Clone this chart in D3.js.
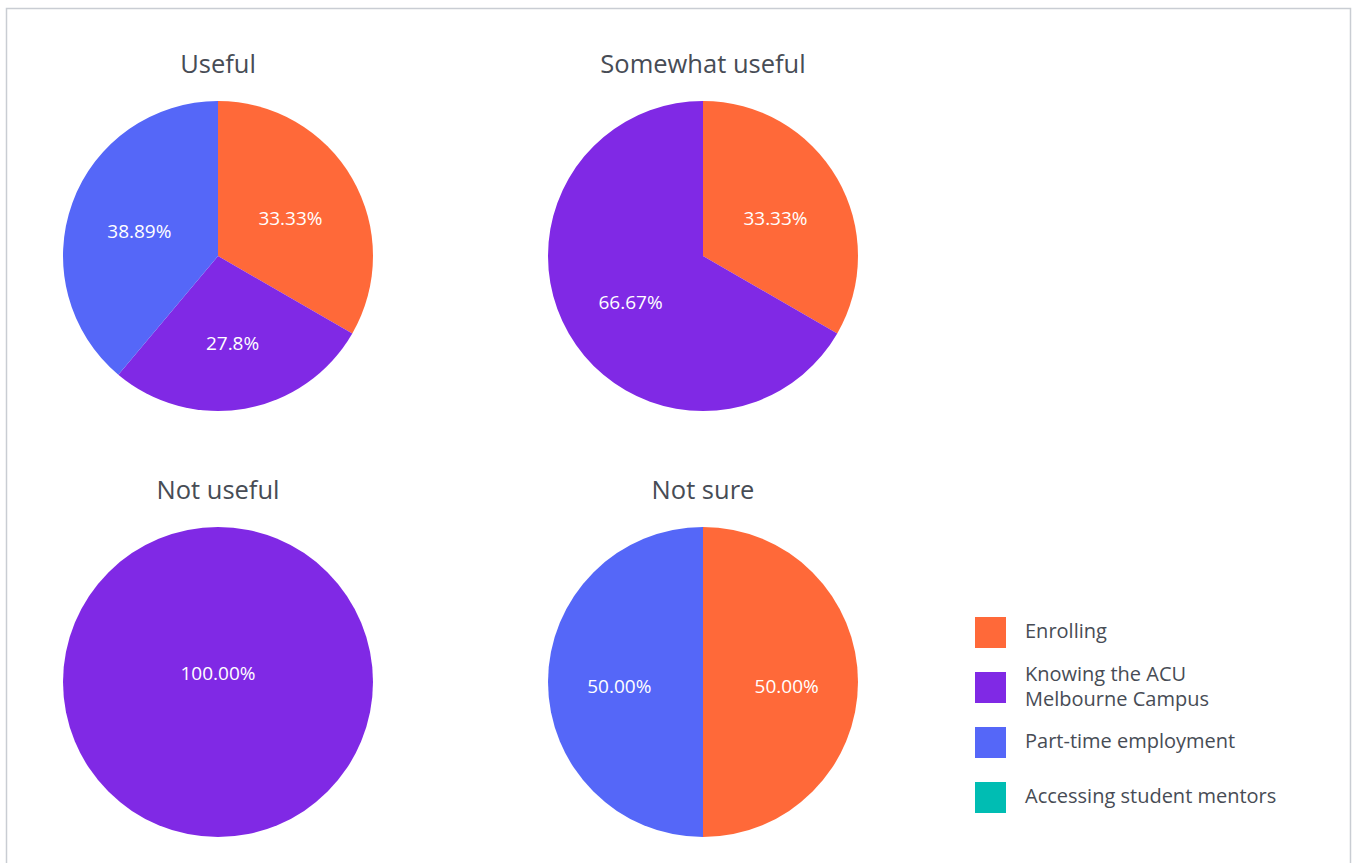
<!DOCTYPE html>
<html>
<head>
<meta charset="utf-8">
<script src="https://cdn.jsdelivr.net/npm/d3@7"></script>
<style>
  body { margin: 0; background: #fff; }
  svg { display: block; font-family: "Open Sans", "Noto Sans", sans-serif; }
</style>
</head>
<body>
<svg id="chart" width="1357" height="863"></svg>
<script>
var categories = ["Enrolling", "Knowing the ACU Melbourne Campus", "Part-time employment", "Accessing student mentors"];
var colours = ["#ff6939", "#8029e5", "#5567f8", "#00bdb3"];

var panels = ["Useful", "Somewhat useful", "Not useful", "Not sure"];
// value per category, same order as categories
var usefulValues = [33.33, 27.8, 38.89, 0];
var somewhatValues = [33.33, 66.67, 0, 0];
var notUsefulValues = [0, 100, 0, 0];
var notSureValues = [50, 0, 50, 0];
var usefulLabels = ["33.33%", "27.8%", "38.89%", ""];
var somewhatLabels = ["33.33%", "66.67%", "", ""];
var notUsefulLabels = ["", "100.00%", "", ""];
var notSureLabels = ["50.00%", "", "50.00%", ""];

var legendLines = [["Enrolling"], ["Knowing the ACU", "Melbourne Campus"], ["Part-time employment"], ["Accessing student mentors"]];

var svg = d3.select("#chart");

// outer frame
svg.append("rect")
  .attr("x", 6.5).attr("y", 8.5)
  .attr("width", 1344).attr("height", 880)
  .attr("fill", "none")
  .attr("stroke", "#c9cdd3")
  .attr("stroke-width", 1.5);

var radius = 155;
var centres = [[218, 256], [703, 256], [218, 682], [703, 682]];
var allValues = [usefulValues, somewhatValues, notUsefulValues, notSureValues];
var allLabels = [usefulLabels, somewhatLabels, notUsefulLabels, notSureLabels];

var colour = d3.scaleOrdinal().domain(categories).range(colours);

var pie = d3.pie().sort(null).value(function (d) { return d.value; });
var arc = d3.arc().innerRadius(0).outerRadius(radius);
var labelArc = d3.arc().innerRadius(radius * 0.54).outerRadius(radius * 0.54);

panels.forEach(function (title, i) {
  var g = svg.append("g")
    .attr("transform", "translate(" + centres[i][0] + "," + centres[i][1] + ")");

  g.append("text")
    .attr("x", 0).attr("y", -radius - 35)
    .attr("text-anchor", "middle")
    .attr("dominant-baseline", "middle")
    .attr("font-size", 25.5)
    .attr("font-weight", 500)
    .attr("fill", "#474c55")
    .text(title);

  var rows = categories.map(function (c, k) {
    return { name: c, value: allValues[i][k], label: allLabels[i][k] };
  }).filter(function (d) { return d.value > 0; });

  var arcs = pie(rows);

  g.selectAll("path.slice")
    .data(arcs)
    .enter()
    .append("path")
    .attr("class", "slice")
    .attr("d", arc)
    .attr("fill", function (d) { return colour(d.data.name); });

  g.selectAll("text.pct")
    .data(arcs)
    .enter()
    .append("text")
    .attr("class", "pct")
    .attr("transform", function (d) {
      if (d.endAngle - d.startAngle >= 2 * Math.PI - 1e-6) return "translate(0,-7)";
      var c = labelArc.centroid(d);
      return "translate(" + c[0] + "," + (c[1] + 6) + ")";
    })
    .attr("text-anchor", "middle")
    .attr("dominant-baseline", "middle")
    .attr("font-size", 19)
    .attr("fill", "#fff")
    .text(function (d) { return d.data.label; });
});

// legend
var legend = svg.append("g").attr("transform", "translate(975,617)");
var legendY = [0, 55, 110, 165];

categories.forEach(function (c, k) {
  var item = legend.append("g").attr("transform", "translate(0," + legendY[k] + ")");
  item.append("rect")
    .attr("width", 31).attr("height", 31)
    .attr("fill", colour(c));
  var lines = legendLines[k];
  lines.forEach(function (line, j) {
    item.append("text")
      .attr("x", 50)
      .attr("y", 16 + (j - (lines.length - 1) / 2) * 25)
      .attr("dominant-baseline", "middle")
      .attr("font-size", 20)
      .attr("fill", "#474c55")
      .text(line);
  });
});
</script>
</body>
</html>
